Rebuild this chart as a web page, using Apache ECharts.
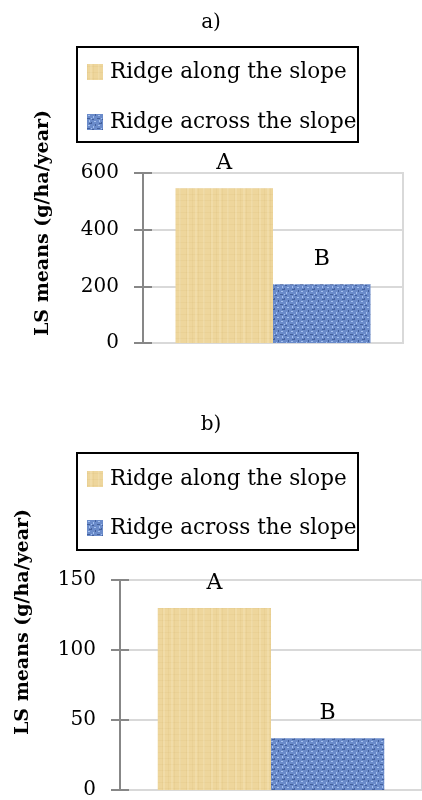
<!DOCTYPE html>
<html>
<head>
<meta charset="utf-8">
<script src="https://cdn.jsdelivr.net/npm/echarts@6/dist/echarts.min.js"></script>
<style>
html,body{margin:0;padding:0;background:#fff;}
#chart{width:422px;height:800px;}
</style>
</head>
<body>
<div id="chart"></div>
<script>
// ---- data ----
var seriesNames = ['Ridge along the slope', 'Ridge across the slope'];
var categories = [''];
var valuesA = [546, 207];      // panel a) LS means (g/ha/year)
var valuesB = [130, 37];       // panel b) LS means (g/ha/year)
var letterLabels = ['A', 'B'];
var panelTitles = ['a)', 'b)'];
var yAxisTitle = 'LS means (g/ha/year)';
var yTicksA = [0, 200, 400, 600];
var yTicksB = [0, 50, 100, 150];

// ---- textures (deterministic) ----
function makeTan() {
  var c = document.createElement('canvas'); c.width = 24; c.height = 24;
  var g = c.getContext('2d');
  g.fillStyle = '#eed69c'; g.fillRect(0, 0, 24, 24);
  g.fillStyle = 'rgba(190,155,80,0.08)';
  for (var i = 0; i < 24; i += 6) { g.fillRect(i, 0, 1, 24); g.fillRect(0, i + 2, 24, 1); }
  g.fillStyle = 'rgba(255,248,225,0.18)';
  for (var j = 3; j < 24; j += 8) { g.fillRect(j, 0, 2, 24); }
  return c;
}
function makeBlue() {
  var c = document.createElement('canvas'); c.width = 10; c.height = 10;
  var g = c.getContext('2d');
  g.fillStyle = '#6a8bca'; g.fillRect(0, 0, 10, 10);
  g.fillStyle = '#a4c0ee';
  g.fillRect(1, 1, 2, 1); g.fillRect(6, 2, 1, 2); g.fillRect(2, 6, 1, 2); g.fillRect(7, 7, 2, 1); g.fillRect(4, 4, 1, 1);
  g.fillStyle = '#43609c';
  g.fillRect(0, 4, 3, 1); g.fillRect(4, 8, 1, 2); g.fillRect(8, 0, 1, 2); g.fillRect(5, 5, 2, 1); g.fillRect(2, 9, 2, 1);
  return c;
}
var tanFill = { image: makeTan(), repeat: 'repeat' };
var blueFill = { image: makeBlue(), repeat: 'repeat' };
var fills = [tanFill, blueFill];

var FONT = 'DejaVu Serif';
var chart = echarts.init(document.getElementById('chart'), null, { renderer: 'canvas' });

function yAxisPair(gridIndex, ticks) {
  var mn = ticks[0], mx = ticks[ticks.length - 1], iv = ticks[1] - ticks[0];
  return [{
    type: 'value', gridIndex: gridIndex, position: 'left', min: mn, max: mx, interval: iv,
    axisLine: { show: true, lineStyle: { color: '#878787', width: 2 } },
    axisTick: { show: true, inside: false, length: 9, lineStyle: { color: '#878787', width: 2 } },
    axisLabel: { margin: 24, color: '#000', fontFamily: FONT, fontSize: 20 },
    splitLine: { show: true, lineStyle: { color: '#d9d9d9', width: 2 } }
  }, {
    type: 'value', gridIndex: gridIndex, position: 'left', offset: 0, min: mn, max: mx, interval: iv,
    axisLine: { show: false },
    axisTick: { show: true, inside: true, length: 9, lineStyle: { color: '#878787', width: 2 } },
    axisLabel: { show: false },
    splitLine: { show: false }
  }];
}

function barSeries(panel, values) {
  return seriesNames.map(function (name, i) {
    return {
      name: name, type: 'bar', xAxisIndex: panel, yAxisIndex: panel * 2,
      data: [values[i]],
      barGap: '0%', barCategoryGap: '25%',
      itemStyle: { color: fills[i] },
      label: {
        show: true, position: 'top', distance: 14,
        formatter: letterLabels[i],
        color: '#000', fontFamily: FONT, fontSize: 22
      }
    };
  });
}

function legendFor(top, gap) {
  return {
    data: seriesNames, orient: 'vertical', left: 87, top: top, padding: 0,
    itemWidth: 16, itemHeight: 16, itemGap: gap, icon: 'rect',
    selectedMode: false,
    textStyle: { color: '#000', fontFamily: FONT, fontSize: 21.5, lineHeight: 24, padding: [0, 0, 0, 2] }
  };
}

var option = {
  animation: false,
  backgroundColor: '#fff',
  title: [
    { text: panelTitles[0], left: 'center', top: 8, textStyle: { fontFamily: FONT, fontSize: 20, fontWeight: 'normal', color: '#000' } },
    { text: panelTitles[1], left: 'center', top: 410, textStyle: { fontFamily: FONT, fontSize: 20, fontWeight: 'normal', color: '#000' } }
  ],
  legend: [legendFor(60, 26), legendFor(467, 25)],
  grid: [
    { left: 143, top: 173, right: 19, height: 170, show: true, borderColor: '#d9d9d9', borderWidth: 2 },
    { left: 120, top: 580, right: -3, height: 213, show: true, borderColor: '#d9d9d9', borderWidth: 2 }
  ],
  xAxis: [
    { type: 'category', gridIndex: 0, data: categories, axisLine: { lineStyle: { color: '#d9d9d9', width: 2 } }, axisTick: { show: false }, axisLabel: { show: false } },
    { type: 'category', gridIndex: 1, data: categories, axisLine: { lineStyle: { color: '#d9d9d9', width: 2 } }, axisTick: { show: false }, axisLabel: { show: false } }
  ],
  yAxis: yAxisPair(0, yTicksA).concat(yAxisPair(1, yTicksB)),
  series: barSeries(0, valuesA).concat(barSeries(1, valuesB)),
  graphic: [
    { type: 'rect', shape: { x: 77, y: 47, width: 281, height: 95 }, style: { fill: 'none', stroke: '#000', lineWidth: 2 }, z: 100 },
    { type: 'rect', shape: { x: 77, y: 453, width: 281, height: 97 }, style: { fill: 'none', stroke: '#000', lineWidth: 2 }, z: 100 },
    { type: 'text', x: 43, y: 223, rotation: Math.PI / 2, style: { text: yAxisTitle, fontFamily: FONT, fontSize: 19, fontWeight: 'bold', fill: '#000', align: 'center', verticalAlign: 'middle' } },
    { type: 'text', x: 23, y: 622, rotation: Math.PI / 2, style: { text: yAxisTitle, fontFamily: FONT, fontSize: 19, fontWeight: 'bold', fill: '#000', align: 'center', verticalAlign: 'middle' } }
  ]
};
chart.setOption(option);
</script>
</body>
</html>
